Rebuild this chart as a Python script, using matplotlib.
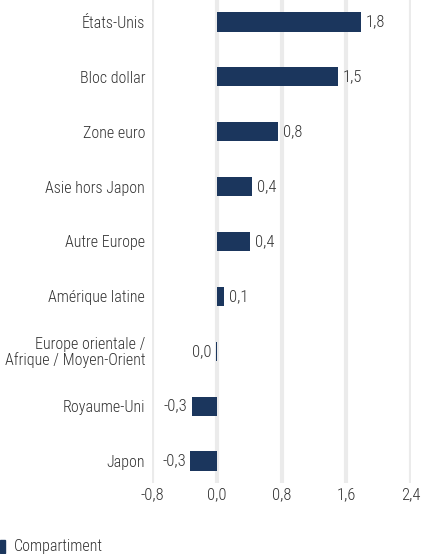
import matplotlib
matplotlib.use("Agg")
import matplotlib.pyplot as plt
from matplotlib.font_manager import fontManager

categories = ["États-Unis", "Bloc dollar", "Zone euro", "Asie hors Japon", "Autre Europe",
              "Amérique latine", "Europe orientale /\nAfrique / Moyen-Orient", "Royaume-Uni", "Japon"]
values = [1.78, 1.50, 0.76, 0.44, 0.41, 0.09, -0.01, -0.31, -0.33]
xticks = [-0.8, 0.0, 0.8, 1.6, 2.4]
legend_label = "Compartiment"

names = {f.name for f in fontManager.ttflist}
fam = [n for n in ["Roboto Condensed", "Liberation Sans Narrow", "Open Sans Condensed"] if n in names] + ["DejaVu Sans"]
plt.rcParams['font.family'] = fam
plt.rcParams['font.weight'] = 'light'

bar_color = "#1b365d"
text_color = "#333333"
fs = 11.5
vfs = 12

fig = plt.figure(figsize=(4.22, 5.54), dpi=100)
ax = fig.add_axes([152/422, 1-483/554, (411-152)/422, 483/554])
ypos = list(range(len(categories)))
ax.barh(ypos, values, height=0.35, color=bar_color, zorder=3)
ax.set_ylim(len(categories)-0.6, -0.4)
ax.set_xlim(-0.8, 2.4)
ax.set_xticks(xticks)
ax.set_xticklabels([f"{t:.1f}".replace(".", ",") for t in xticks], fontsize=vfs)
ax.set_yticks(ypos)
ax.set_yticklabels(categories, linespacing=1.0, fontsize=fs)
ax.tick_params(length=0, colors=text_color)
ax.tick_params(axis='y', pad=5)
ax.tick_params(axis='x', pad=3)
ax.grid(axis='x', color="#ebebeb", linewidth=3, zorder=0)
for s in ax.spines.values():
    s.set_visible(False)

for y, v in zip(ypos, values):
    txt = f"{abs(v) if round(v,1)==0 else v:.1f}".replace(".", ",")
    if v >= 0:
        ax.text(v + 0.06, y, txt, va='center', ha='left', fontsize=vfs, color=text_color)
    else:
        ax.text(v - 0.05, y, txt, va='center', ha='right', fontsize=vfs, color=text_color)

fig.patches.append(plt.Rectangle((0, 1/554), 5/422, 13/554, transform=fig.transFigure, color=bar_color))
fig.text(14/422, 8/554, legend_label, fontsize=fs, color=text_color, va='center', ha='left')

fig.savefig("out.png", dpi=100)
